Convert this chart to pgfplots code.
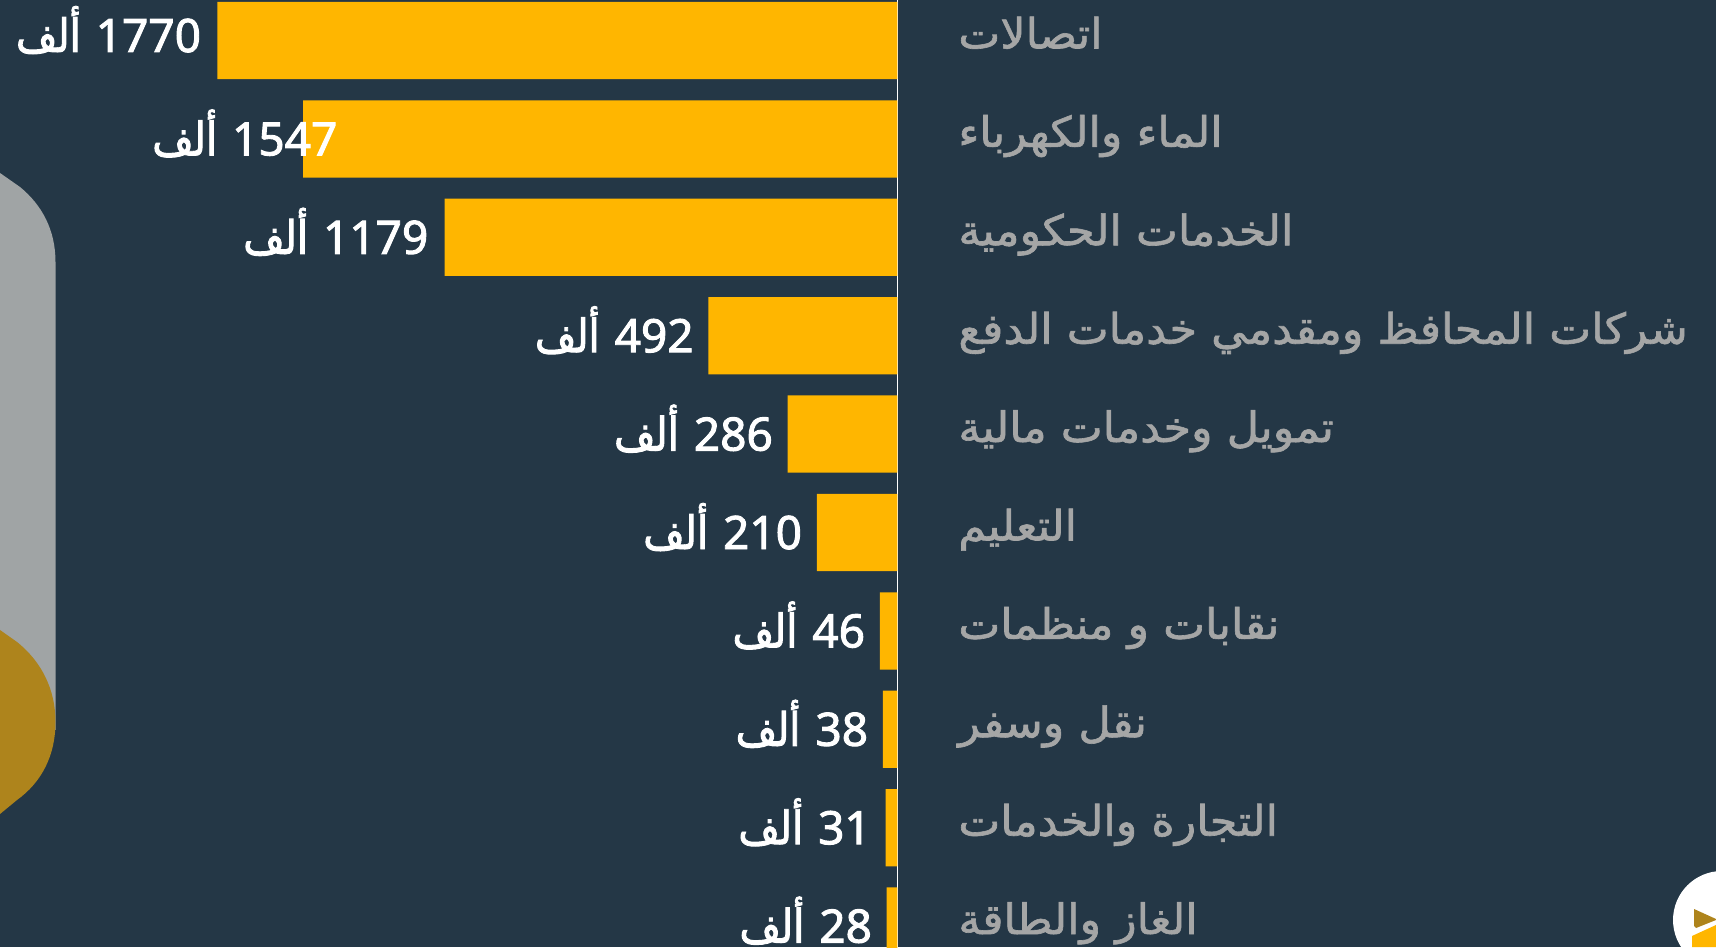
\documentclass[border=0pt]{standalone}
\usepackage{pgfplots}
\usepackage{pgfplotstable}
\pgfplotsset{compat=1.18}
\usepackage{fontspec}
\setmainfont{Open Sans}
\newfontfamily\arabicfont[Script=Arabic,FakeStretch=1.06,FakeBold=1.5]{DejaVu Sans}
\newfontfamily\arabicval[Script=Arabic,FakeStretch=0.87,FakeBold=2]{DejaVu Sans}
\newfontfamily\numfont[FakeBold=2]{Noto Sans}
\TeXXeTstate=1
\definecolor{bg}{HTML}{243746}
\definecolor{bar}{HTML}{FFB600}
\definecolor{blobgray}{HTML}{A0A4A5}
\definecolor{blobgold}{HTML}{AE841C}
\definecolor{labgray}{HTML}{A5A6A6}
\pgfplotstableread{
i v dx dy
0 1770 -0.8 2.5
1 1547 24.5 0
2 1179 -0.7 0
3 492 0 0
4 286 0 0
5 210 0 0
6 46 0 0
7 38 0 0
8 31 0 0
9 28 0 0
}\datatable
\begin{document}
\begin{tikzpicture}
\fill[bg] (0,0) rectangle (858pt,473.5pt);
\path[use as bounding box] (0,0) rectangle (858pt,473.5pt);
\begin{scope}[x=0.5pt,y=-0.5pt,yshift=473.5pt]
\fill[blobgray] (0,173) -- (20,187) .. controls (42,205) and (55.5,230) .. (55.5,262) -- (55.5,730) -- (0,730) -- cycle;
\fill[blobgold] (0,630) -- (17,642) .. controls (42,662) and (55.5,690) .. (55.5,722) .. controls (55.5,755) and (42,782) .. (17,800) -- (0,814) -- cycle;
\begin{scope}
\clip (0,0) rectangle (1716,947);
\fill[white] (1722,920) circle (49);
\fill[blobgold] (1694,909) -- (1716,919) -- (1716,920) -- (1696,928) -- (1694,926) -- cycle;
\fill[bar] (1692,936) -- (1716,925) -- (1716,947) -- (1692,947) -- cycle;
\end{scope}
\end{scope}
\begin{axis}[
  at={(0,0)}, anchor=south west,
  scale only axis, width=858pt, height=473.5pt,
  x dir=reverse, y dir=reverse,
  xmin=-2130.4, xmax=2336,
  ymin=-0.4116, ymax=9.2124,
  axis line style={draw=none},
  major tick length=0pt,
  xtick=\empty,
  extra x ticks={0},
  extra x tick labels={},
  extra x tick style={grid=major, major grid style={white,line width=0.8pt}, major tick length=0pt},
  ytick={0,1,2,3,4,5,6,7,8,9},
  yticklabels={
    \beginR اتصالات\endR,
    \beginR الماء والكهرباء\endR,
    \beginR الخدمات الحكومية\endR,
    \beginR شركات المحافظ ومقدمي خدمات الدفع\endR,
    \beginR تمويل وخدمات مالية\endR,
    \beginR التعليم\endR,
    \beginR نقابات و منظمات\endR,
    \beginR نقل وسفر\endR,
    \beginR التجارة والخدمات\endR,
    \beginR الغاز والطاقة\endR},
  yticklabel pos=left,
  y tick label style={font=\fontsize{21}{21}\selectfont\arabicfont, text=labgray, anchor=base west, inner sep=0pt, xshift=479pt, yshift=-4pt},
  xbar, bar width=0.785, bar shift=0pt,
  clip=true,
  visualization depends on={\thisrow{dx} \as \labdx},
  visualization depends on={\thisrow{dy} \as \labdy},
  point meta=explicit symbolic,
  nodes near coords={\textcolor{white}{{\arabicval\beginR ألف\endR}\hspace{7.5pt}{\numfont\pgfplotspointmeta}}},
  nodes near coords style={anchor=base east, inner sep=0pt, font=\fontsize{23}{23}\selectfont, xshift={(\labdx-7.2)*1pt}, yshift={(\labdy-8.25)*1pt}},
  ]
\addplot[draw=none, fill=bar] table[x=v, y=i, meta=v] {\datatable};
\end{axis}
\end{tikzpicture}
\end{document}
